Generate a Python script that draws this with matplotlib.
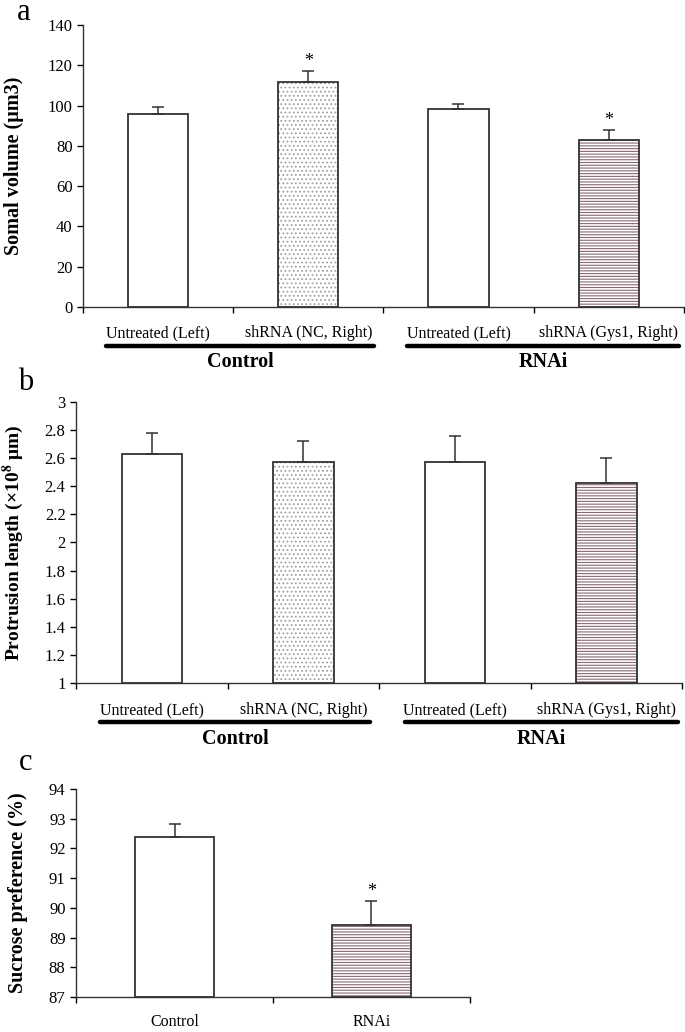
import numpy as np
import matplotlib
matplotlib.use("Agg")
import matplotlib.pyplot as plt
from matplotlib.transforms import blended_transform_factory

plt.rcParams['font.family'] = ['Liberation Serif', 'DejaVu Serif']
plt.rcParams['mathtext.fontset'] = 'stix'
plt.rcParams['hatch.linewidth'] = 0.8

# data
cond_labels = ['Untreated (Left)', 'shRNA (NC, Right)', 'Untreated (Left)', 'shRNA (Gys1, Right)']
group_labels = ['Control', 'RNAi']
hatches = ['', '....', '', '------']

somal_mean = [95.8, 111.8, 98.2, 82.7]
somal_err = [3.6, 5.3, 2.4, 5.1]
somal_sig = [False, True, False, True]

protr_mean = [2.63, 2.57, 2.575, 2.42]
protr_err = [0.15, 0.155, 0.18, 0.18]
protr_sig = [False, False, False, False]

sucrose_labels = ['Control', 'RNAi']
sucrose_mean = [92.38, 89.42]
sucrose_err = [0.43, 0.80]
sucrose_sig = [False, True]
sucrose_hatches = ['', '------']

HATCH_COLORS = {'....': '#a0a0a0', '------': '#8a6878', '': 'black'}


def draw_bars(ax, means, errs, sigs, hatch_list, ymin):
    x = np.arange(len(means)) + 0.5
    for xi, m, h in zip(x, means, hatch_list):
        if h:
            ax.bar(xi, m - ymin, bottom=ymin, width=0.4, color='white',
                   edgecolor=HATCH_COLORS[h], hatch=h, linewidth=0, zorder=2)
        ax.bar(xi, m - ymin, bottom=ymin, width=0.4, fill=False,
               edgecolor='#333333', linewidth=1.3, zorder=3)
    ax.errorbar(x, means, yerr=[np.zeros(len(errs)), errs], fmt='none',
                ecolor='#333333', elinewidth=1.1, capsize=4, capthick=1.1, zorder=4)
    for xi, m, e, s in zip(x, means, errs, sigs):
        if s:
            ax.annotate('*', (xi, m + e), xytext=(0, 1), textcoords='offset points',
                        ha='center', va='bottom', fontsize=13)
    ax.set_xlim(0, len(means))
    ax.set_xticks(np.arange(len(means) + 1))
    ax.set_xticklabels([])
    ax.tick_params(axis='x', direction='out', length=4, width=1)
    ax.tick_params(axis='y', direction='out', length=4, width=1, labelsize=12)
    for s in ['top', 'right']:
        ax.spines[s].set_visible(False)
    for s in ['left', 'bottom']:
        ax.spines[s].set_linewidth(1)
        ax.spines[s].set_color('#333333')


def group_axis(ax, lab_y, line_y, grp_y, spans):
    tr = blended_transform_factory(ax.transData, ax.transAxes)
    for i, lab in enumerate(cond_labels):
        ax.text(i + 0.5, lab_y, lab, transform=tr, ha='center', va='center', fontsize=11.5)
    for (x0, x1), g in zip(spans, group_labels):
        ax.plot([x0, x1], [line_y, line_y], transform=tr, color='black', lw=3.2,
                solid_capstyle='round', clip_on=False)
        ax.text((x0 + x1) / 2, grp_y, g, transform=tr, ha='center', va='center',
                fontsize=14.5, fontweight='bold')


fig = plt.figure(figsize=(6.85, 10.32), dpi=100)

# panel a
ax_a = fig.add_axes([0.1212, 0.7025, 0.877, 0.2733])
draw_bars(ax_a, somal_mean, somal_err, somal_sig, hatches, 0)
ax_a.set_ylim(0, 140)
ax_a.set_yticks(np.arange(0, 141, 20))
ax_a.set_ylabel('Somal volume (μm3)', fontsize=14.5, fontweight='bold')
ax_a.yaxis.set_label_coords(-0.098, 0.5)
group_axis(ax_a, -0.092, -0.138, -0.195, [(0.153, 1.94), (2.16, 3.97)])

# panel b
ax_b = fig.add_axes([0.111, 0.3382, 0.885, 0.2723])
draw_bars(ax_b, protr_mean, protr_err, protr_sig, hatches, 1)
ax_b.set_ylim(1, 3)
ax_b.set_yticks(np.round(np.arange(1, 3.01, 0.2), 1))
ax_b.set_yticklabels(['1', '1.2', '1.4', '1.6', '1.8', '2', '2.2', '2.4', '2.6', '2.8', '3'])
ax_b.set_ylabel(r'Protrusion length (×10$^{\mathbf{8}}$ μm)', fontsize=14, fontweight='bold')
ax_b.yaxis.set_label_coords(-0.082, 0.5)
group_axis(ax_b, -0.096, -0.139, -0.199, [(0.16, 1.94), (2.17, 3.97)])

# panel c
ax_c = fig.add_axes([0.111, 0.0339, 0.575, 0.2016])
draw_bars(ax_c, sucrose_mean, sucrose_err, sucrose_sig, sucrose_hatches, 87)
ax_c.set_ylim(87, 94)
ax_c.set_yticks(np.arange(87, 95, 1))
ax_c.set_ylabel('Sucrose preference (%)', fontsize=14.5, fontweight='bold')
ax_c.yaxis.set_label_coords(-0.122, 0.5)
tr_c = blended_transform_factory(ax_c.transData, ax_c.transAxes)
for i, lab in enumerate(sucrose_labels):
    ax_c.text(i + 0.5, -0.12, lab, transform=tr_c, ha='center', va='center', fontsize=11.5)

# panel letters
fig.text(24 / 685, 1 - 13 / 1032, 'a', fontsize=22, ha='center', va='center')
fig.text(26 / 685, 1 - 382 / 1032, 'b', fontsize=22, ha='center', va='center')
fig.text(26 / 685, 1 - 763 / 1032, 'c', fontsize=22, ha='center', va='center')

fig.savefig('out.png', dpi=100, facecolor='white')
